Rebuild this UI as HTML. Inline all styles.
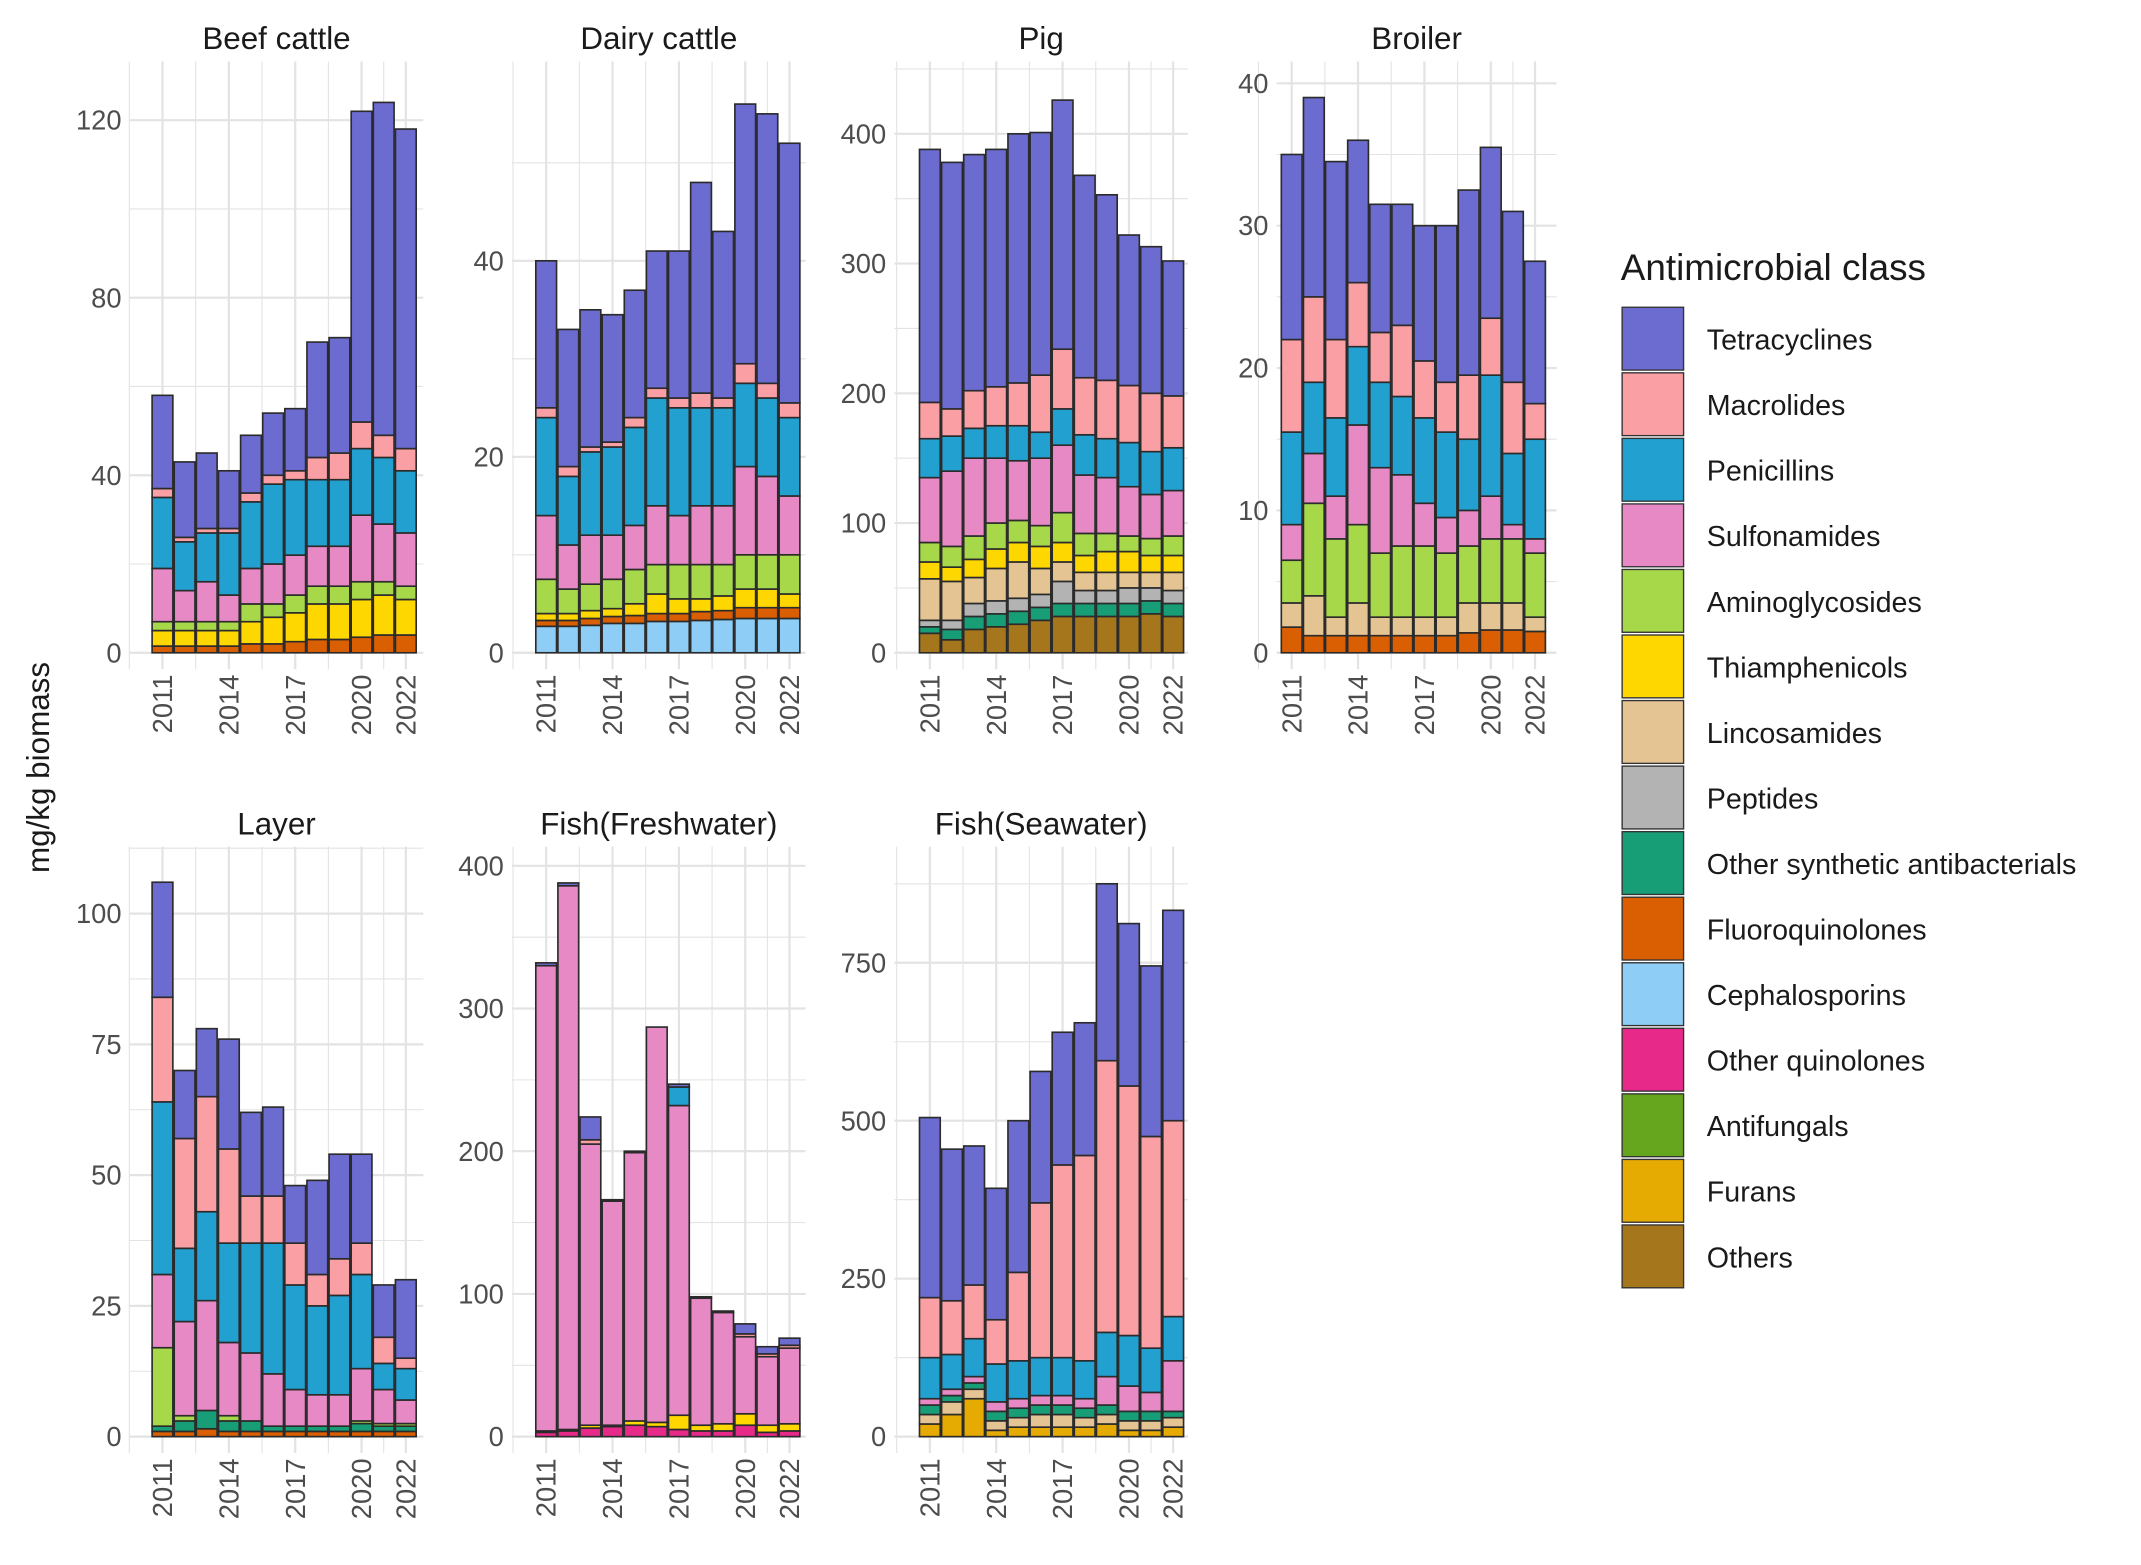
<!DOCTYPE html>
<html><head><meta charset="utf-8"><style>
html,body{margin:0;padding:0;background:#fff;}
svg{display:block;font-family:"Liberation Sans",sans-serif;}
</style></head><body>
<svg id="s" width="2141" height="1565" viewBox="0 0 1568 1146" preserveAspectRatio="none" xmlns="http://www.w3.org/2000/svg"></svg>
<script>
const C={Tet:"#6b6bd0",Mac:"#fa9fa4",Pen:"#22a0d0",Sul:"#e789c5",Ami:"#a6d84a",Thi:"#ffd700",Lin:"#e5c494",Pep:"#b3b3b3",OS:"#179e77",FQ:"#d95f02",Cep:"#8ecdf5",OQ:"#e7298a",AF:"#66a61e",Fur:"#e6ab02",Oth:"#a6761d"};
const panels=[
{t:"Beef cattle",x0:95,x1:310,y0:45,y1:490,base:478,ppu:130/40,ticks:[0,40,80,120],yr0:119,cls:["FQ","Thi","Ami","Sul","Pen","Mac","Tet"],d:[
[1.5,5,7,19,35,37,58],[1.5,5,7,14,25,26,43],[1.5,5,7,16,27,28,45],[1.5,5,7,13,27,28,41],[2,7,11,19,34,36,49],[2,8,11,20,38,40,54],[2.5,9,13,22,39,41,55],[3,11,15,24,39,44,70],[3,11,15,24,39,45,71],[3.5,12,16,31,46,52,122],[4,13,16,29,44,49,124],[4,12,15,27,41,46,118]]},
{t:"Dairy cattle",x0:375,x1:590,y0:45,y1:490,base:478,ppu:287/40,ticks:[0,20,40],yr0:400,cls:["Cep","FQ","Thi","Ami","Sul","Pen","Mac","Tet"],d:[
[2.7,3.3,4,7.5,14,24,25,40],[2.7,3.3,4,6.5,11,18,19,33],[2.8,3.5,4.3,7,12,20.5,21,35],[3,3.7,4.5,7.5,12,21,21.5,34.5],[3,3.8,5,8.5,13,23,24,37],[3.2,4,6,9,15,26,27,41],[3.2,4,5.5,9,14,25,26,41],[3.3,4.2,5.5,9,15,25,26.5,48],[3.4,4.3,5.8,9,15,25,26,43],[3.5,4.6,6.5,10,19,27.5,29.5,56],[3.5,4.6,6.5,10,18,26,27.5,55],[3.5,4.6,6,10,16,24,25.5,52]]},
{t:"Pig",x0:655,x1:870,y0:45,y1:490,base:478,ppu:380/400,ticks:[0,100,200,300,400],yr0:681,cls:["Oth","OS","Pep","Lin","Thi","Ami","Sul","Pen","Mac","Tet"],d:[
[15,20,25,57,70,85,135,165,193,388],[10,18,25,55,66,82,140,167,188,378],[18,28,38,58,72,90,150,173,202,384],[20,30,40,65,80,100,150,175,205,388],[22,32,42,70,85,102,148,175,208,400],[25,35,45,65,82,98,150,170,214,401],[28,38,55,70,85,108,160,188,234,426],[28,38,48,62,75,92,137,168,212,368],[28,38,48,62,78,92,135,165,210,353],[28,38,50,62,78,90,128,162,206,322],[30,40,50,62,75,88,122,155,200,313],[28,38,48,62,75,90,125,158,198,302]]},
{t:"Broiler",x0:935,x1:1140,y0:45,y1:490,base:478,ppu:417/40,ticks:[0,10,20,30,40],yr0:946,cls:["FQ","Lin","Ami","Sul","Pen","Mac","Tet"],d:[
[1.8,3.5,6.5,9,15.5,22,35],[1.2,4,10.5,14,19,25,39],[1.2,2.5,8,11,16.5,22,34.5],[1.2,3.5,9,16,21.5,26,36],[1.2,2.5,7,13,19,22.5,31.5],[1.2,2.5,7.5,12.5,18,23,31.5],[1.2,2.5,7.5,10.5,16.5,20.5,30],[1.2,2.5,7,9.5,15.5,19,30],[1.4,3.5,7.5,10,15,19.5,32.5],[1.6,3.5,8,11,19.5,23.5,35.5],[1.6,3.5,8,9,14,19,31],[1.5,2.5,7,8,15,17.5,27.5]]},
{t:"Layer",x0:95,x1:310,y0:620,y1:1064,base:1052,ppu:383/100,ticks:[0,25,50,75,100],yr0:119,cls:["FQ","OS","Ami","Sul","Pen","Mac","Tet"],d:[
[1,2,17,31,64,84,106],[1,3,4,22,36,57,70],[1.5,5,5,26,43,65,78],[1,3,4,18,37,55,76],[1,3,3,16,37,46,62],[1,2,2,12,37,46,63],[1,2,2,9,29,37,48],[1,2,2,8,25,31,49],[1,2,2,8,27,34,54],[1,2.5,3,13,31,37,54],[1,2,2.5,9,14,19,29],[1,2,2.5,7,13,15,30]]},
{t:"Fish(Freshwater)",x0:375,x1:590,y0:620,y1:1064,base:1052,ppu:418/400,ticks:[0,100,200,300,400],yr0:400,cls:["OQ","Thi","Sul","Pen","Mac","Tet"],d:[
[3,4,330,330,330,332],[4,5,386,386,386,388],[6,8,205,205,208,224],[7,8,165,165,165,166],[8,11,199,199,199,200],[7,10,287,287,287,287],[5,15,232,245,245,247],[4,8,97,97,97,98],[4,9,87,87,87,88],[8,16,70,70,72,79],[3,8,56,56,58,63],[4,9,62,62,64,69]]},
{t:"Fish(Seawater)",x0:655,x1:870,y0:620,y1:1064,base:1052,ppu:347/750,ticks:[0,250,500,750],yr0:681,cls:["Fur","Lin","OS","Sul","Pen","Mac","Tet"],d:[
[20,35,50,60,125,220,505],[35,55,65,75,130,215,455],[60,75,85,95,155,240,460],[10,25,40,55,115,185,393],[15,30,45,60,120,260,500],[15,35,50,65,125,370,578],[15,35,50,65,125,430,640],[15,30,45,60,120,445,655],[20,35,50,95,165,595,875],[10,25,40,80,160,555,812],[10,25,40,70,140,475,745],[15,30,40,120,190,500,833]]}
];
let o="";
const step=16.2,bw=15.2;
for(const p of panels){
  const Y=v=>p.base-v*p.ppu, X=yr=>p.yr0+(yr-2011)*step;
  const tk=p.ticks, dt=tk[1]-tk[0];
  for(let v=0;v<=tk[tk.length-1]+dt/2+0.001;v+=dt/2){const y=Y(v);if(y<p.y0)break;o+=`<line x1="${p.x0}" x2="${p.x1}" y1="${y}" y2="${y}" stroke="#e3e3e3" stroke-width="${(v%dt===0)?1.6:0.8}"/>`;}
  for(const yr of [2011,2014,2017,2020,2022])o+=`<line x1="${X(yr)}" x2="${X(yr)}" y1="${p.y0}" y2="${p.y1}" stroke="#e3e3e3" stroke-width="1.6"/>`;
  for(const yr of [2009.5,2012.5,2015.5,2018.5,2021])o+=`<line x1="${X(yr)}" x2="${X(yr)}" y1="${p.y0}" y2="${p.y1}" stroke="#e3e3e3" stroke-width="0.8"/>`;
  for(const v of tk)o+=`<text x="${p.x0-6}" y="${Y(v)+7}" text-anchor="end" font-size="20" fill="#4d4d4d">${v}</text>`;
  for(const yr of [2011,2014,2017,2020,2022])o+=`<text transform="translate(${X(yr)+7},${p.y1+4}) rotate(-90)" text-anchor="end" font-size="20" fill="#4d4d4d">${yr}</text>`;
  o+=`<text x="${(p.x0+p.x1)/2}" y="${p.y0-9}" text-anchor="middle" font-size="23" fill="#1a1a1a">${p.t}</text>`;
  p.d.forEach((row,i)=>{const x=X(2011+i)-bw/2;let prev=0;
    row.forEach((v,j)=>{if(v>prev){o+=`<rect x="${x}" y="${Y(v)}" width="${bw}" height="${(v-prev)*p.ppu}" fill="${C[p.cls[j]]}" stroke="#2b2b2b" stroke-width="1.2"/>`;prev=v;}});});
}
o+=`<text transform="translate(36,562) rotate(-90)" text-anchor="middle" font-size="23" fill="#1a1a1a">mg/kg biomass</text>`;
o+=`<text x="1187" y="205" font-size="27" fill="#1a1a1a">Antimicrobial class</text>`;
const L=[["Tet","Tetracyclines"],["Mac","Macrolides"],["Pen","Penicillins"],["Sul","Sulfonamides"],["Ami","Aminoglycosides"],["Thi","Thiamphenicols"],["Lin","Lincosamides"],["Pep","Peptides"],["OS","Other synthetic antibacterials"],["FQ","Fluoroquinolones"],["Cep","Cephalosporins"],["OQ","Other quinolones"],["AF","Antifungals"],["Fur","Furans"],["Oth","Others"]];
L.forEach((l,i)=>{const y=225+i*48;o+=`<rect x="1188" y="${y}" width="45" height="46" fill="${C[l[0]]}" stroke="#333" stroke-width="1"/><text x="1250" y="${y+31}" font-size="21" fill="#1a1a1a">${l[1]}</text>`;});
document.getElementById("s").innerHTML=o;
</script>
</body></html>
